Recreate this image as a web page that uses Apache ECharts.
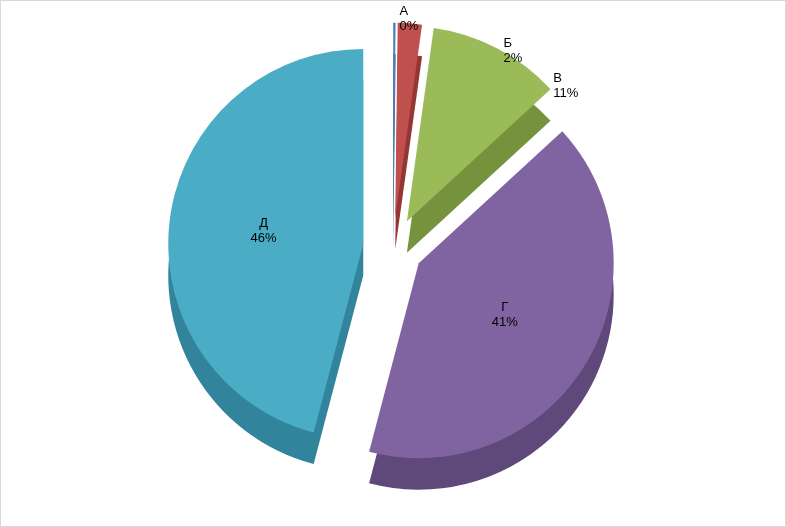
<!DOCTYPE html>
<html>
<head>
<meta charset="utf-8">
<script src="https://cdn.jsdelivr.net/npm/echarts@6/dist/echarts.min.js"></script>
<style>
html, body { margin: 0; padding: 0; background: #fff; }
#chart { width: 786px; height: 527px; border: 1px solid #d9d9d9; box-sizing: border-box; }
</style>
</head>
<body>
<div id="chart"></div>
<script>
'use strict';
var categories = ['А', 'Б', 'В', 'Г', 'Д'];
var values = [0.2, 2, 11, 41, 46];
var percentLabels = ['0%', '2%', '11%', '41%', '46%'];
var topColors = ['#4F81BD', '#C0504D', '#9BBB59', '#8064A2', '#4BACC6'];
var sideColors = ['#3A6190', '#943634', '#76923C', '#5F497A', '#31849B'];

var chart = echarts.init(document.getElementById('chart'));

function buildData(colors, withLabels) {
    var data = [];
    for (var i = 0; i < categories.length; i++) {
        var big = values[i] > 20;
        data.push({
            name: categories[i],
            value: values[i],
            selected: true,
            itemStyle: { color: colors[i] },
            label: withLabels ? {
                show: true,
                position: big ? 'inside' : 'outside',
                formatter: categories[i] + '\n' + percentLabels[i]
            } : { show: false },
            labelLine: { show: false, length: 4, length2: 0 }
        });
    }
    return data;
}

chart.setOption({
    animation: false,
    series: [
        {
            type: 'pie',
            name: 'side',
            center: ['50%', '53%'],
            radius: [0, 195],
            startAngle: 90,
            clockwise: true,
            selectedMode: 'multiple',
            selectedOffset: 30,
            silent: true,
            itemStyle: { borderWidth: 0 },
            data: buildData(sideColors, false)
        },
        {
            type: 'pie',
            name: 'top',
            center: ['50%', '47%'],
            radius: [0, 195],
            startAngle: 90,
            clockwise: true,
            selectedMode: 'multiple',
            selectedOffset: 30,
            itemStyle: { borderWidth: 0 },
            label: {
                color: '#000',
                fontSize: 13,
                fontFamily: 'Liberation Sans, Arial',
                lineHeight: 15,
                align: 'center'
            },
            data: buildData(topColors, true)
        }
    ]
});
</script>
</body>
</html>
